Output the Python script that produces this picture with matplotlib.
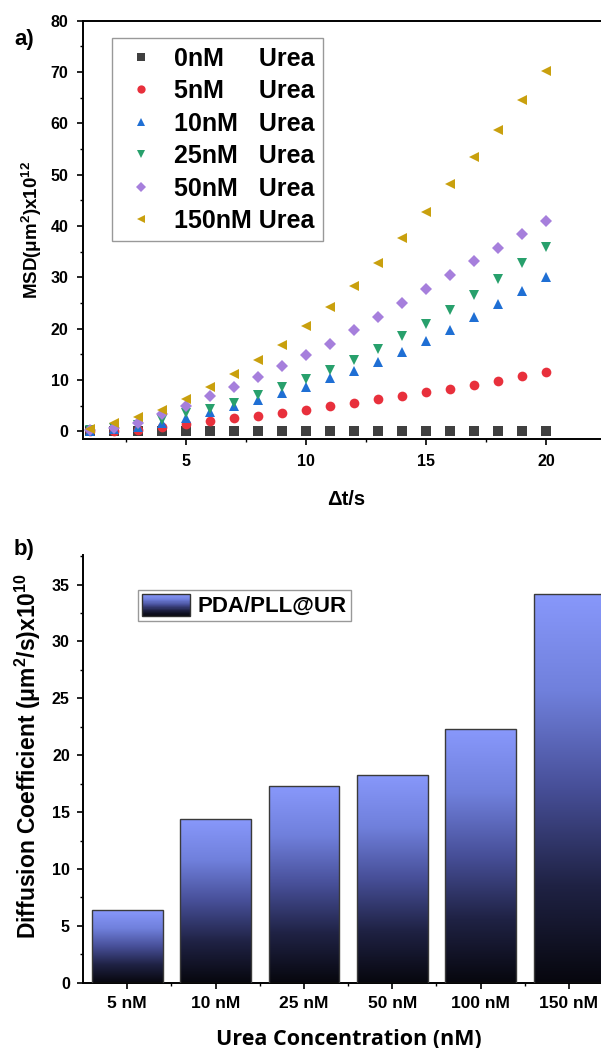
import numpy as np
import matplotlib
matplotlib.use('Agg')
import matplotlib.pyplot as plt
from matplotlib.colors import LinearSegmentedColormap
from matplotlib.container import BarContainer
from matplotlib.legend_handler import HandlerBase
from matplotlib.patches import Rectangle
from matplotlib.ticker import MultipleLocator

plt.rcParams['font.family'] = ['Liberation Sans', 'DejaVu Sans']
plt.rcParams['font.weight'] = 'bold'
plt.rcParams['mathtext.fontset'] = 'custom'
plt.rcParams['mathtext.rm'] = 'Liberation Sans:bold'
plt.rcParams['mathtext.it'] = 'Liberation Sans:bold'
plt.rcParams['mathtext.bf'] = 'Liberation Sans:bold'

# MSD data (a)
dt = [1, 2, 3, 4, 5, 6, 7, 8, 9, 10, 11, 12, 13, 14, 15, 16, 17, 18, 19, 20]
msd_0 = [0.0, 0.0, 0.0, 0.0, 0.0, 0.0, 0.0, 0.0, 0.0, 0.0,
         0.0, 0.0, 0.0, 0.0, 0.0, 0.0, 0.0, 0.0, 0.0, 0.0]
msd_5 = [0.05, 0.15, 0.3, 0.8, 1.5, 2.0, 2.5, 2.9, 3.5, 4.1,
         4.9, 5.5, 6.2, 6.9, 7.6, 8.3, 9.1, 9.9, 10.8, 11.6]
msd_10 = [0.1, 0.4, 0.9, 1.7, 2.5, 3.7, 4.9, 6.1, 7.5, 8.7,
          10.3, 11.8, 13.5, 15.4, 17.6, 19.8, 22.3, 24.8, 27.3, 30.0]
msd_25 = [0.2, 0.6, 1.3, 2.3, 3.5, 4.3, 5.6, 7.1, 8.6, 10.2,
          11.9, 13.9, 16.0, 18.5, 20.9, 23.6, 26.6, 29.6, 32.8, 35.9]
msd_50 = [0.3, 0.7, 1.6, 3.4, 5.0, 6.8, 8.6, 10.5, 12.7, 14.8,
          17.1, 19.7, 22.2, 25.0, 27.8, 30.4, 33.2, 35.8, 38.4, 41.0]
msd_150 = [0.5, 1.6, 2.8, 4.2, 6.3, 8.6, 11.1, 13.9, 16.9, 20.5,
           24.3, 28.3, 32.8, 37.7, 42.8, 48.2, 53.5, 58.8, 64.5, 70.3]

series_labels = ['0nM     Urea', '5nM     Urea', '10nM   Urea',
                 '25nM   Urea', '50nM   Urea', '150nM Urea']

# Diffusion coefficients (b)
conc_labels = ['5 nM', '10 nM', '25 nM', '50 nM', '100 nM', '150 nM']
diff_coef = [6.4, 14.4, 17.3, 18.3, 22.3, 34.2]

markers = ['s', 'o', '^', 'v', 'D', '<']
colors = ['#404040', '#e8303c', '#1f6fd4', '#28a06c', '#a67fdc', '#c9a00e']
sizes = [6.5, 7, 7.5, 7.5, 6.5, 7.5]

bar_cmap = LinearSegmentedColormap.from_list(
    'bar_grad', [(0.0, '#07070e'), (0.25, '#1f2244'), (0.5, '#474f98'),
                 (0.75, '#7080dc'), (1.0, '#8898fb')])


class GradientHandler(HandlerBase):
    # legend key drawn as a stack of thin strips, dark at the bottom
    def create_artists(self, legend, orig_handle, xdescent, ydescent,
                       width, height, fontsize, trans):
        n = 40
        arts = []
        for i in range(n):
            arts.append(Rectangle((-xdescent, -ydescent + height * i / n), width,
                                  height / n * 1.05,
                                  facecolor=bar_cmap((i + 0.5) / n),
                                  edgecolor='none', transform=trans))
        arts.append(Rectangle((-xdescent, -ydescent), width, height,
                              facecolor='none', edgecolor='#333333', lw=1,
                              transform=trans))
        return arts


fig = plt.figure(figsize=(6.01, 10.48), dpi=100)

# ---- panel a ----
ax1 = fig.add_axes([0.1381, 0.5811, 0.877, 0.3991])
all_msd = [msd_0, msd_5, msd_10, msd_25, msd_50, msd_150]
for vals, m, c, s, lab in zip(all_msd, markers, colors, sizes, series_labels):
    ax1.plot(dt, vals, linestyle='none', marker=m, color=c, markersize=s,
             markeredgewidth=0, label=lab, clip_on=False)

ax1.set_xlim(0.7, 22.66)
ax1.set_ylim(-1.5, 80)
ax1.xaxis.set_major_locator(MultipleLocator(5))
ax1.xaxis.set_minor_locator(MultipleLocator(2.5))
ax1.yaxis.set_major_locator(MultipleLocator(10))
ax1.yaxis.set_minor_locator(MultipleLocator(5))
ax1.spines['right'].set_visible(False)
for sp in ax1.spines.values():
    sp.set_linewidth(1.4)
ax1.tick_params(which='major', direction='out', length=4.5, width=1.2,
                labelsize=11.5, pad=6)
ax1.tick_params(which='minor', direction='out', length=2.5, width=1.0)
ax1.tick_params(top=False, right=False, which='both')

ax1.set_xlabel('Δt/s', fontsize=14.5, fontweight='bold')
ax1.xaxis.set_label_coords(0.5, -0.122)
ax1.set_ylabel('MSD(μm$^2$)x10$^{12}$', fontsize=13.5, fontweight='bold')
ax1.yaxis.set_label_coords(-0.074, 0.5)

leg1 = ax1.legend(loc='upper left', bbox_to_anchor=(0.055, 0.958),
                  borderaxespad=0, fontsize=18, handlelength=1.7,
                  handletextpad=0.45, borderpad=0.33, labelspacing=0.34,
                  markerscale=0.85, fancybox=False, frameon=True)
leg1.get_frame().set_edgecolor('#808080')
leg1.get_frame().set_linewidth(1.0)

fig.text(0.04, 0.962, 'a)', fontsize=16, fontweight='bold',
         ha='center', va='center')

# ---- panel b ----
ax2 = fig.add_axes([0.1381, 0.0623, 0.8819, 0.4081])
x_pos = np.arange(len(conc_labels))
bars = ax2.bar(x_pos, diff_coef, width=0.8, color='none', edgecolor='#3a3a3a',
               linewidth=1.0, zorder=3, label='PDA/PLL@UR')

grad = np.linspace(0, 1, 256).reshape(-1, 1)
for bar in bars:
    x0, y0 = bar.get_x(), bar.get_y()
    w, h = bar.get_width(), bar.get_height()
    img = ax2.imshow(grad, extent=[x0, x0 + w, y0, y0 + h], origin='lower',
                     cmap=bar_cmap, aspect='auto', zorder=2,
                     interpolation='bilinear')
    img.set_clip_path(bar)

ax2.set_xlim(-0.5, 5.5)
ax2.set_ylim(0, 37.6)
ax2.set_xticks(x_pos)
ax2.set_xticklabels(conc_labels)
ax2.set_xticks(x_pos[:-1] + 0.5, minor=True)
ax2.yaxis.set_major_locator(MultipleLocator(5))
ax2.yaxis.set_minor_locator(MultipleLocator(2.5))
ax2.spines['top'].set_visible(False)
ax2.spines['right'].set_visible(False)
for sp in ax2.spines.values():
    sp.set_linewidth(1.4)
ax2.tick_params(which='major', direction='out', length=4.5, width=1.2,
                labelsize=11.5, pad=5)
ax2.tick_params(axis='x', which='major', labelsize=12.5)
ax2.tick_params(which='minor', direction='out', length=2.5, width=1.0)

ax2.set_xlabel('Urea Concentration (nM)', fontsize=15.5, fontweight='bold',
               family=['Open Sans', 'Liberation Sans'])
ax2.xaxis.set_label_coords(0.501, -0.108)
ax2.set_ylabel('Diffusion Coefficient (μm$^2$/s)x10$^{10}$', fontsize=16.5,
               fontweight='bold')
ax2.yaxis.set_label_coords(-0.075, 0.53)

leg2 = ax2.legend(handles=[bars], labels=['PDA/PLL@UR'],
                  handler_map={BarContainer: GradientHandler()},
                  loc='upper left', bbox_to_anchor=(0.104, 0.918),
                  borderaxespad=0, fontsize=16, handlelength=2.16,
                  handleheight=1.13, handletextpad=0.36, borderpad=0.17,
                  fancybox=False, frameon=True)
leg2.get_frame().set_edgecolor('#808080')
leg2.get_frame().set_linewidth(1.0)

fig.text(0.04, 0.476, 'b)', fontsize=16, fontweight='bold',
         ha='center', va='center')

fig.savefig('out.png', dpi=100)
